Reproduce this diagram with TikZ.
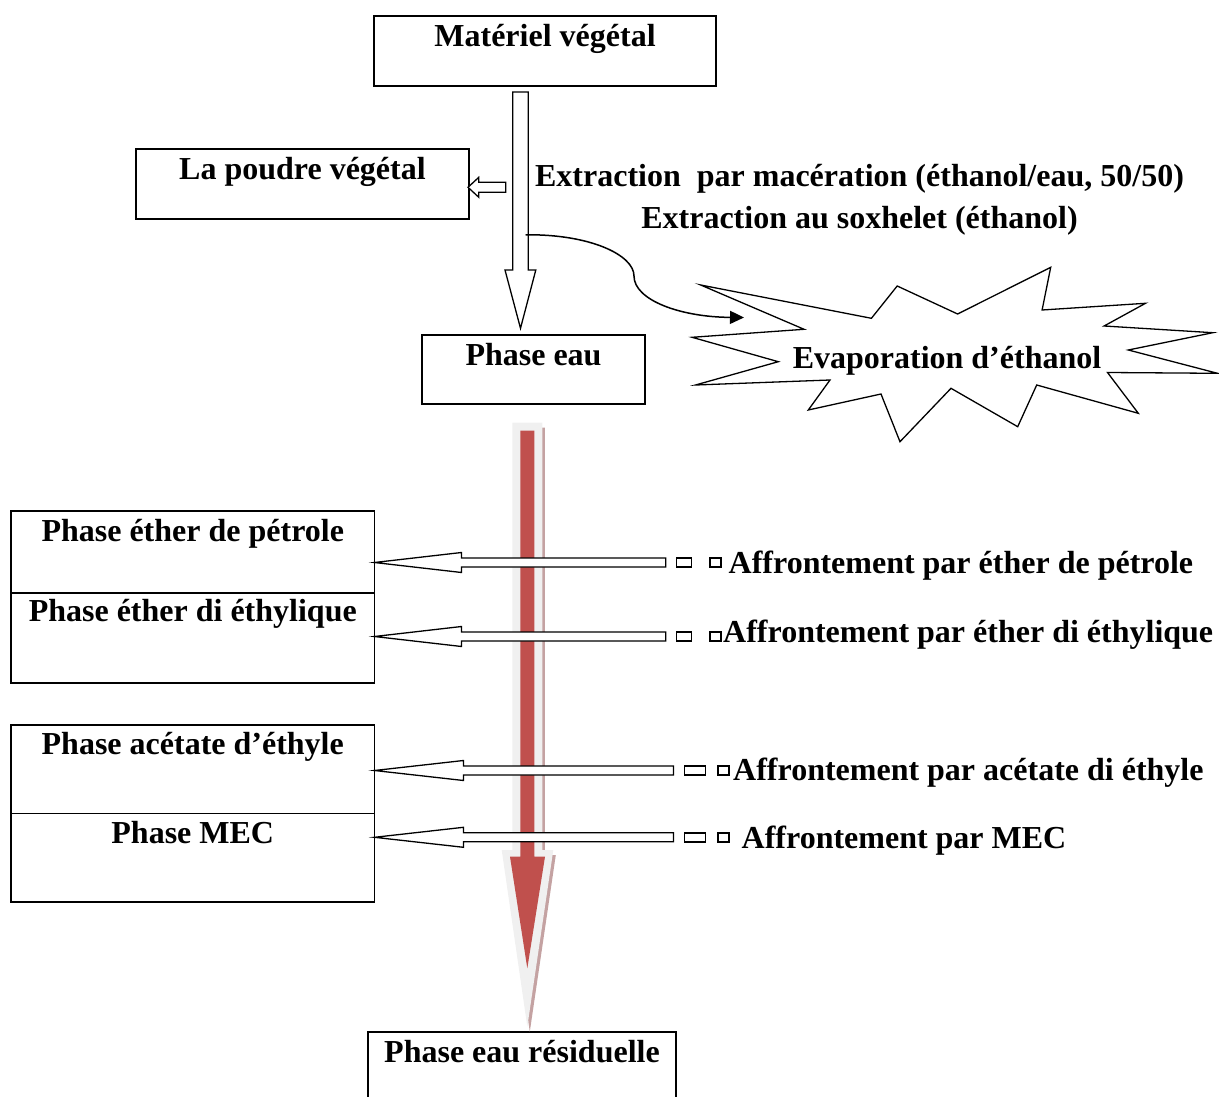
\documentclass[tikz,border=0pt]{standalone}
\usepackage{fontspec}
\setmainfont{Liberation Serif}
\usepackage{tikz}
\usetikzlibrary{arrows.meta,positioning,calc}
\definecolor{flowred}{HTML}{C0504D}
\definecolor{flowgrey}{HTML}{F0F0F0}
\definecolor{flowshade}{HTML}{C4A2A2}

\begin{document}
\begin{tikzpicture}[
  x=1pt, y=-1pt,
  font=\fontsize{32}{38}\selectfont\bfseries,
  box/.style={draw, line width=1.6pt, outer sep=0pt, inner sep=0pt},
  boxtext/.style={inner sep=0pt, text height=23pt, text depth=7pt},
  hollow/.style={draw, fill=white, line width=1.3pt, line join=miter},
  bar/.style={draw, fill=white, line width=1.4pt, minimum height=9pt, inner sep=0pt, outer sep=0pt},
  burst/.style={draw, fill=white, line width=1.3pt, line join=miter},
  flow/.style={-{Triangle[length=14pt,width=13pt]}, line width=1.5pt}
]
  \useasboundingbox (0,0) rectangle (1219,1097);

  % boxes
  \node[box, minimum width=342pt, minimum height=70pt] (mat) at (545,51) {};
  \node[box, minimum width=333pt, minimum height=70pt] (poudre) at (302.5,184) {};
  \node[box, minimum width=223pt, minimum height=69pt] (peau) at (533.5,369.5) {};
  \node[box, minimum width=363.5pt, minimum height=81.7pt] (pep) at (192.75,551.85) {};
  \node[box, minimum width=363.5pt, minimum height=90pt, below=0pt of pep] (ped) {};
  \node[box, minimum width=363.5pt, minimum height=88.3pt] (pac) at (192.75,769.15) {};
  \node[box, minimum width=363.5pt, minimum height=88.4pt, below=0pt of pac] (mec) {};
  \node[box, minimum width=308pt, minimum height=80pt] (peres) at (522,1072) {};

  \node[boxtext, below=7pt of mat.north] (matt) {Matériel végétal};
  \node[boxtext, below=7pt of poudre.north] (poudret) {La poudre végétal};
  \node[boxtext, below=7pt of peau.north] (peaut) {Phase eau};
  \node[boxtext, below=7pt of pep.north] (pept) {Phase éther de pétrole};
  \node[boxtext, below=6pt of ped.north] (pedt) {Phase éther di éthylique};
  \node[boxtext, below=6pt of pac.north] (pact) {Phase acétate d’éthyle};
  \node[boxtext, below=7pt of mec.north] (mect) {Phase MEC};
  \node[boxtext, below=7pt of peres.north] (perest) {Phase eau résiduelle};

  % red arrow
  \coordinate (rtop) at (527.3,422.7);
  \fill[flowshade] (rtop) ++(-12.5,5) -- ++(30,0) -- ++(0,427.3) -- ++(11,0) -- ++(-26,176.7) -- ++(-25.6,-176.7) -- ++(10.6,0) -- cycle;
  \fill[flowgrey] (rtop) ++(-15,0) -- ++(30,0) -- ++(0,427.3) -- ++(11,0) -- ++(-26,176.7) -- ++(-25.6,-176.7) -- ++(10.6,0) -- cycle;
  \fill[flowred] (rtop) ++(-7,8) -- ++(14,0) -- ++(0,426) -- ++(10.7,0) -- ++(-17.7,111.6) -- ++(-17.3,-111.6) -- ++(10.3,0) -- cycle;

  % extraction
  \coordinate (dtop) at (520.5,92);
  \coordinate (dtip) at (520.5,328.3);
  \draw[hollow] (dtop) ++(-7.8,0) -- ++(15.6,0) -- ++(0,178) -- ++(7.5,0) -- (dtip) -- ++(-15.5,-58.3) -- ++(7.7,0) -- cycle;
  \coordinate (ptip) at (468,187.3);
  \draw[hollow] (ptip) -- ++(10.8,-10) -- ++(0,5) -- ++(27,0) -- ++(0,10) -- ++(-27,0) -- ++(0,5) -- cycle;

  \node[boxtext] (ext1) at (859.5,178.5) {Extraction\ \ par macération (éthanol/eau, 50/50)};
  \node[boxtext, below=12pt of ext1] (ext2) {Extraction au soxhelet (éthanol)};

  % evaporation
  \draw[burst] (700.7,285) -- (871.4,318.3) -- (897.2,286) -- (957.6,314) -- (1050.7,267.3) -- (1042.1,310) -- (1145.5,303.3) -- (1104.1,326) -- (1212.8,332.7) -- (1128.3,350) -- (1217.5,373.3) -- (1107.5,372.5) -- (1138.3,413.3) -- (1036.7,385) -- (1017.7,426.7) -- (951,388.3) -- (900,441.7) -- (881,394) -- (808.3,410) -- (830,380) -- (695.5,385) -- (778.3,361.7) -- (692.1,337.3) -- (804.1,329.3) -- cycle;
  \node[boxtext] (evap) at (947,360) {Evaporation d’éthanol};
  \coordinate (cstart) at (525.5,234.8);
  \coordinate (cend) at (744,317.5);
  \draw[flow] (cstart) .. controls (590,234) and (634,255) .. (634,276) .. controls (634,300) and (680,317) .. (cend);

  % affrontements
  \node[bar, minimum width=15pt] (r1a) at (684.2,562.5) {};
  \node[bar, minimum width=11pt, right=18.3pt of r1a] (r1b) {};
  \node[bar, minimum width=15pt] (r2a) at (684.2,636.5) {};
  \node[bar, minimum width=11pt, right=18.3pt of r2a] (r2b) {};
  \node[bar, minimum width=21pt] (r3a) at (695,770.5) {};
  \node[bar, minimum width=11pt, right=12.5pt of r3a] (r3b) {};
  \node[bar, minimum width=21pt] (r4a) at (695,837.3) {};
  \node[bar, minimum width=11pt, right=12.5pt of r4a] (r4b) {};

  \coordinate (t1) at (pep.east |- r1a);
  \coordinate (t2) at (ped.east |- r2a);
  \coordinate (t3) at (pac.east |- r3a);
  \coordinate (t4) at (mec.east |- r4a);
  \draw[hollow] (t1) -- ++(87,-10) -- ++(0,5.5) -- ($(r1a.west)+(-11,-4.5)$) -- ++(0,9) -- ($(t1)+(87,4.5)$) -- ++(0,5.5) -- cycle;
  \draw[hollow] (t2) -- ++(87,-10) -- ++(0,5.5) -- ($(r2a.west)+(-11,-4.5)$) -- ++(0,9) -- ($(t2)+(87,4.5)$) -- ++(0,5.5) -- cycle;
  \draw[hollow] (t3) -- ++(89,-10) -- ++(0,5.5) -- ($(r3a.west)+(-11,-4.5)$) -- ++(0,9) -- ($(t3)+(89,4.5)$) -- ++(0,5.5) -- cycle;
  \draw[hollow] (t4) -- ++(89,-10) -- ++(0,5.5) -- ($(r4a.west)+(-11,-4.5)$) -- ++(0,9) -- ($(t4)+(89,4.5)$) -- ++(0,5.5) -- cycle;

  \node[boxtext, right=7.5pt of r1b, yshift=-3pt] (aff1) {Affrontement par éther de pétrole};
  \node[boxtext, right=2pt of r2b, yshift=2.5pt] (aff2) {Affrontement par éther di éthylique};
  \node[boxtext, right=4pt of r3b, yshift=-1.5pt] (aff3) {Affrontement par acétate di éthyle};
  \node[boxtext, right=12.5pt of r4b, yshift=-3pt] (aff4) {Affrontement par MEC};
\end{tikzpicture}
\end{document}
